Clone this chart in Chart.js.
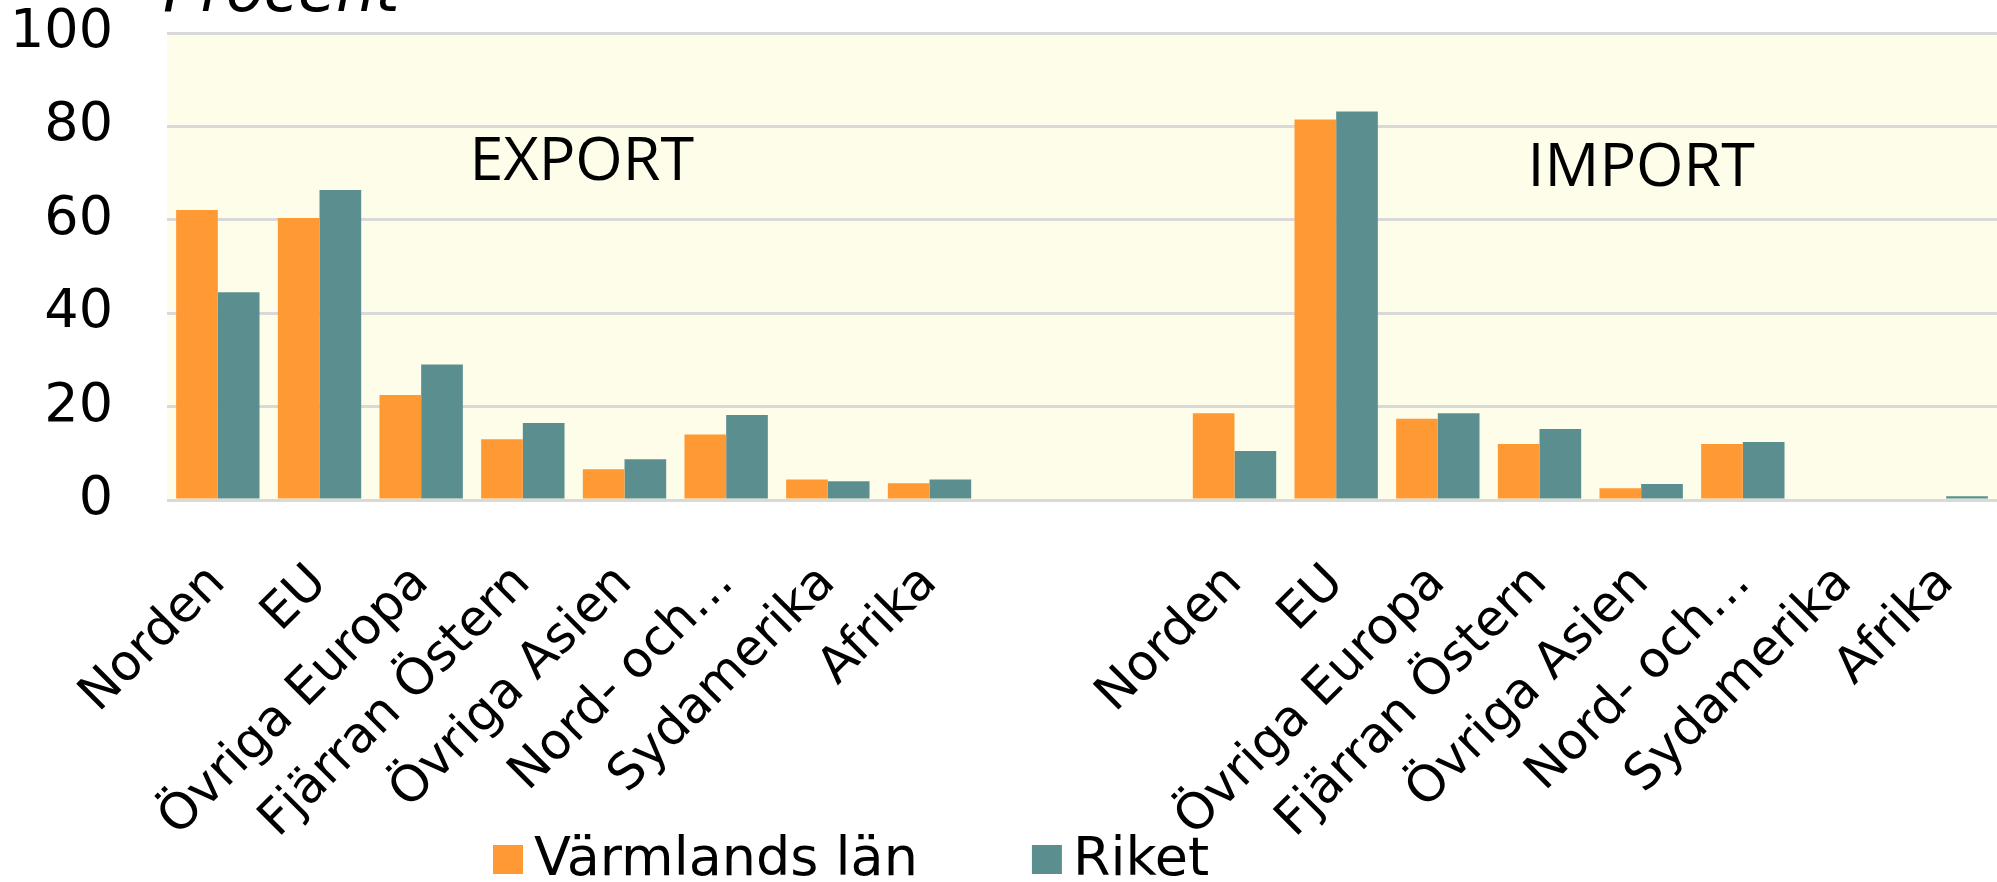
<!DOCTYPE html>
<html>
<head>
<meta charset="utf-8">
<script src="https://cdn.jsdelivr.net/npm/chart.js@4/dist/chart.umd.min.js"></script>
<style>
  html, body { margin: 0; padding: 0; background: #fff; }
  #chart { display: block; }
</style>
</head>
<body>
<canvas id="chart" width="1997" height="882"></canvas>
<script>
// regions, shown once for export and once for import
var categories = ['Norden', 'EU', 'Övriga Europa', 'Fjärran Östern', 'Övriga Asien', 'Nord- och…', 'Sydamerika', 'Afrika'];
var gapLabels = ['', ''];

// share in percent
var exportVarmland = [62.1, 60.4, 22.5, 13.0, 6.6, 14.0, 4.4, 3.6];
var exportRiket = [44.5, 66.4, 29.0, 16.5, 8.7, 18.2, 4.0, 4.4];
var importVarmland = [18.6, 81.5, 17.4, 12.0, 2.5, 12.0, 0, 0];
var importRiket = [10.5, 83.2, 18.6, 15.2, 3.4, 12.4, 0, 0.8];

var seriesNames = ['Värmlands län', 'Riket'];
var seriesColors = ['#FF9933', '#5B8F8F'];
var yTicks = [0, 20, 40, 60, 80, 100];

var font = 'DejaVu Sans';

// plot background, group captions, cut-off title and legend
var decorations = {
  id: 'decorations',
  beforeDraw: function(chart) {
    var a = chart.chartArea, ctx = chart.ctx;
    ctx.save();
    ctx.fillStyle = '#FDFDEA';
    ctx.fillRect(a.left, a.top, a.right - a.left, a.bottom - a.top);
    ctx.restore();
  },
  afterDraw: function(chart) {
    var ctx = chart.ctx, x = chart.scales.x, y = chart.scales.y;
    ctx.save();
    ctx.fillStyle = '#000';
    // group captions
    ctx.font = '61px "Open Sans"';
    ctx.textAlign = 'center';
    ctx.textBaseline = 'alphabetic';
    ctx.fillText('EXPORT', x.getPixelForValue(3.58), y.getPixelForValue(68.5));
    ctx.fillText('IMPORT', x.getPixelForValue(14.0), y.getPixelForValue(67.2));
    // axis title, mostly above the picture
    ctx.font = 'italic 62px ' + font;
    ctx.textAlign = 'left';
    ctx.fillText('Procent', 163, 11);
    // legend
    ctx.font = '54px ' + font;
    var lx = 493;
    chart.data.datasets.forEach(function(ds) {
      ctx.fillStyle = ds.backgroundColor;
      ctx.fillRect(lx, 845, 30, 29);
      ctx.fillStyle = '#000';
      ctx.fillText(ds.label, lx + 41, 875);
      lx += 41 + ctx.measureText(ds.label).width + 114;
    });
    ctx.restore();
  }
};

new Chart('chart', {
  type: 'bar',
  data: {
    labels: categories.concat(gapLabels, categories),
    datasets: [
      {
        label: seriesNames[0],
        data: exportVarmland.concat([null, null], importVarmland),
        backgroundColor: seriesColors[0]
      }, {
        label: seriesNames[1],
        data: exportRiket.concat([null, null], importRiket),
        backgroundColor: seriesColors[1]
      }
    ]
  },
  options: {
    responsive: false,
    animation: false,
    categoryPercentage: 0.82,
    barPercentage: 1.0,
    layout: { padding: { top: 33, left: 0, right: 0, bottom: 0 } },
    scales: {
      x: {
        grid: { display: false },
        border: { display: false },
        ticks: {
          autoSkip: false,
          minRotation: 45,
          maxRotation: 45,
          padding: 46,
          color: '#000',
          font: { family: font, size: 50 }
        },
        afterFit: function(scale) {
          scale.height = 382;
          scale.paddingLeft = 0;
          scale.paddingRight = 0;
        }
      },
      y: {
        min: 0,
        max: 100,
        border: { display: false },
        grid: { color: '#D9D9D9', lineWidth: 3, drawTicks: false },
        afterBuildTicks: function(scale) {
          scale.ticks = yTicks.map(function(v) { return { value: v }; });
        },
        ticks: {
          padding: 54,
          color: '#000',
          font: { family: font, size: 54 }
        },
        afterFit: function(scale) {
          scale.width = 167;
          scale.paddingTop = 0;
          scale.paddingBottom = 0;
        }
      }
    },
    plugins: {
      legend: { display: false },
      tooltip: { enabled: false }
    }
  },
  plugins: [decorations]
});
</script>
</body>
</html>
